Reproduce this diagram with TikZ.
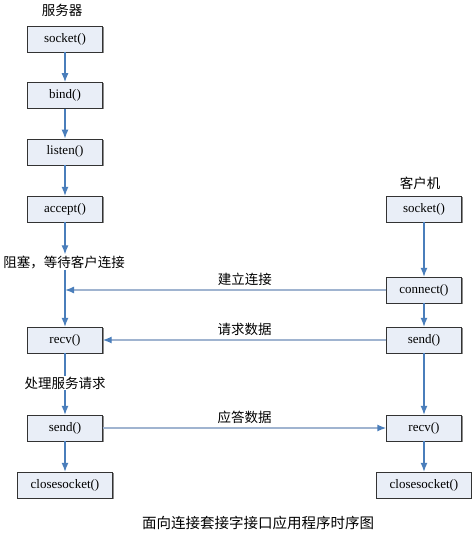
\documentclass[tikz,border=0pt]{standalone}
\usepackage{fontspec}
\setmainfont{Liberation Serif}
\newfontfamily\cjk{Noto Sans CJK SC}
\usepackage{tikz}
\usetikzlibrary{positioning, arrows.meta, shadows}

\definecolor{boxfill}{RGB}{233,238,247}
\definecolor{flowblue}{RGB}{74,126,187}
\definecolor{msgblue}{RGB}{160,180,208}

\begin{document}
\begin{tikzpicture}[
    x=1pt, y=-1pt,
    node distance=30pt,
    callbox/.style={draw=black!80, fill=boxfill, thin, minimum width=75pt, minimum height=26pt, inner sep=0pt,
        font=\fontsize{13}{15}\selectfont, drop shadow={shadow xshift=1pt, shadow yshift=-1pt, fill=black!45, opacity=1}},
    widebox/.style={callbox, minimum width=95pt},
    note/.style={font=\cjk\fontsize{13.5}{16}\selectfont, inner sep=1pt},
    flow/.style={draw=flowblue, line width=1.2pt, -{Latex[length=9pt, width=7pt]}},
    msg/.style={draw=msgblue, line width=1.4pt, -{Latex[length=9pt, width=7pt, color=flowblue]}},
    ]

    \useasboundingbox (0,0) rectangle (471,537);

    % server side
    \node[note] (server) at (62,10) {服务器};
    \node[callbox] (ssocket) at (65,39) {socket()};
    \node[callbox] (bind) [below=of ssocket] {bind()};
    \node[callbox] (listen) [below=of bind] {listen()};
    \node[callbox] (accept) at (65,209) {accept()};
    \node[note] (wait) at (64,262) {阻塞，等待客户连接};
    \node[callbox] (srecv) at (65,340) {recv()};
    \node[note] (handle) at (65,383) {处理服务请求};
    \node[callbox] (ssend) at (65,428) {send()};
    \node[widebox] (sclose) at (65,485) {closesocket()};

    % client side
    \node[note] (client) at (420,183) {客户机};
    \node[callbox] (csocket) at (424,209) {socket()};
    \node[callbox] (connect) at (424,290) {connect()};
    \node[callbox] (csend) at (424,340) {send()};
    \node[callbox] (crecv) at (424,428) {recv()};
    \node[widebox] (cclose) at (424,485) {closesocket()};

    \coordinate (join) at (srecv |- connect);

    \draw[flow] (ssocket) -- (bind);
    \draw[flow] (bind) -- (listen);
    \draw[flow] (listen) -- (accept);
    \draw[flow] (accept) -- (accept |- wait.north);
    \draw[flow] (srecv |- wait.south) -- (srecv);
    \draw[draw=flowblue, line width=1.2pt] (srecv) -- (srecv |- handle.north);
    \draw[flow] (ssend |- handle.south) -- (ssend);
    \draw[flow] (ssend) -- (sclose);

    \draw[flow] (csocket) -- (connect);
    \draw[flow] (connect) -- (csend);
    \draw[flow] (csend) -- (crecv);
    \draw[flow] (crecv) -- (cclose);

    \draw[msg] (connect) -- node[note, above=3pt, pos=0.44] {建立连接} (join);
    \draw[msg] (csend) -- node[note, above=3pt] {请求数据} (srecv);
    \draw[msg] (ssend) -- node[note, above=3pt] {应答数据} (crecv);

    \node[note, font=\cjk\fontsize{14.5}{17}\selectfont] (caption) at (258,523) {面向连接套接字接口应用程序时序图};
\end{tikzpicture}
\end{document}
